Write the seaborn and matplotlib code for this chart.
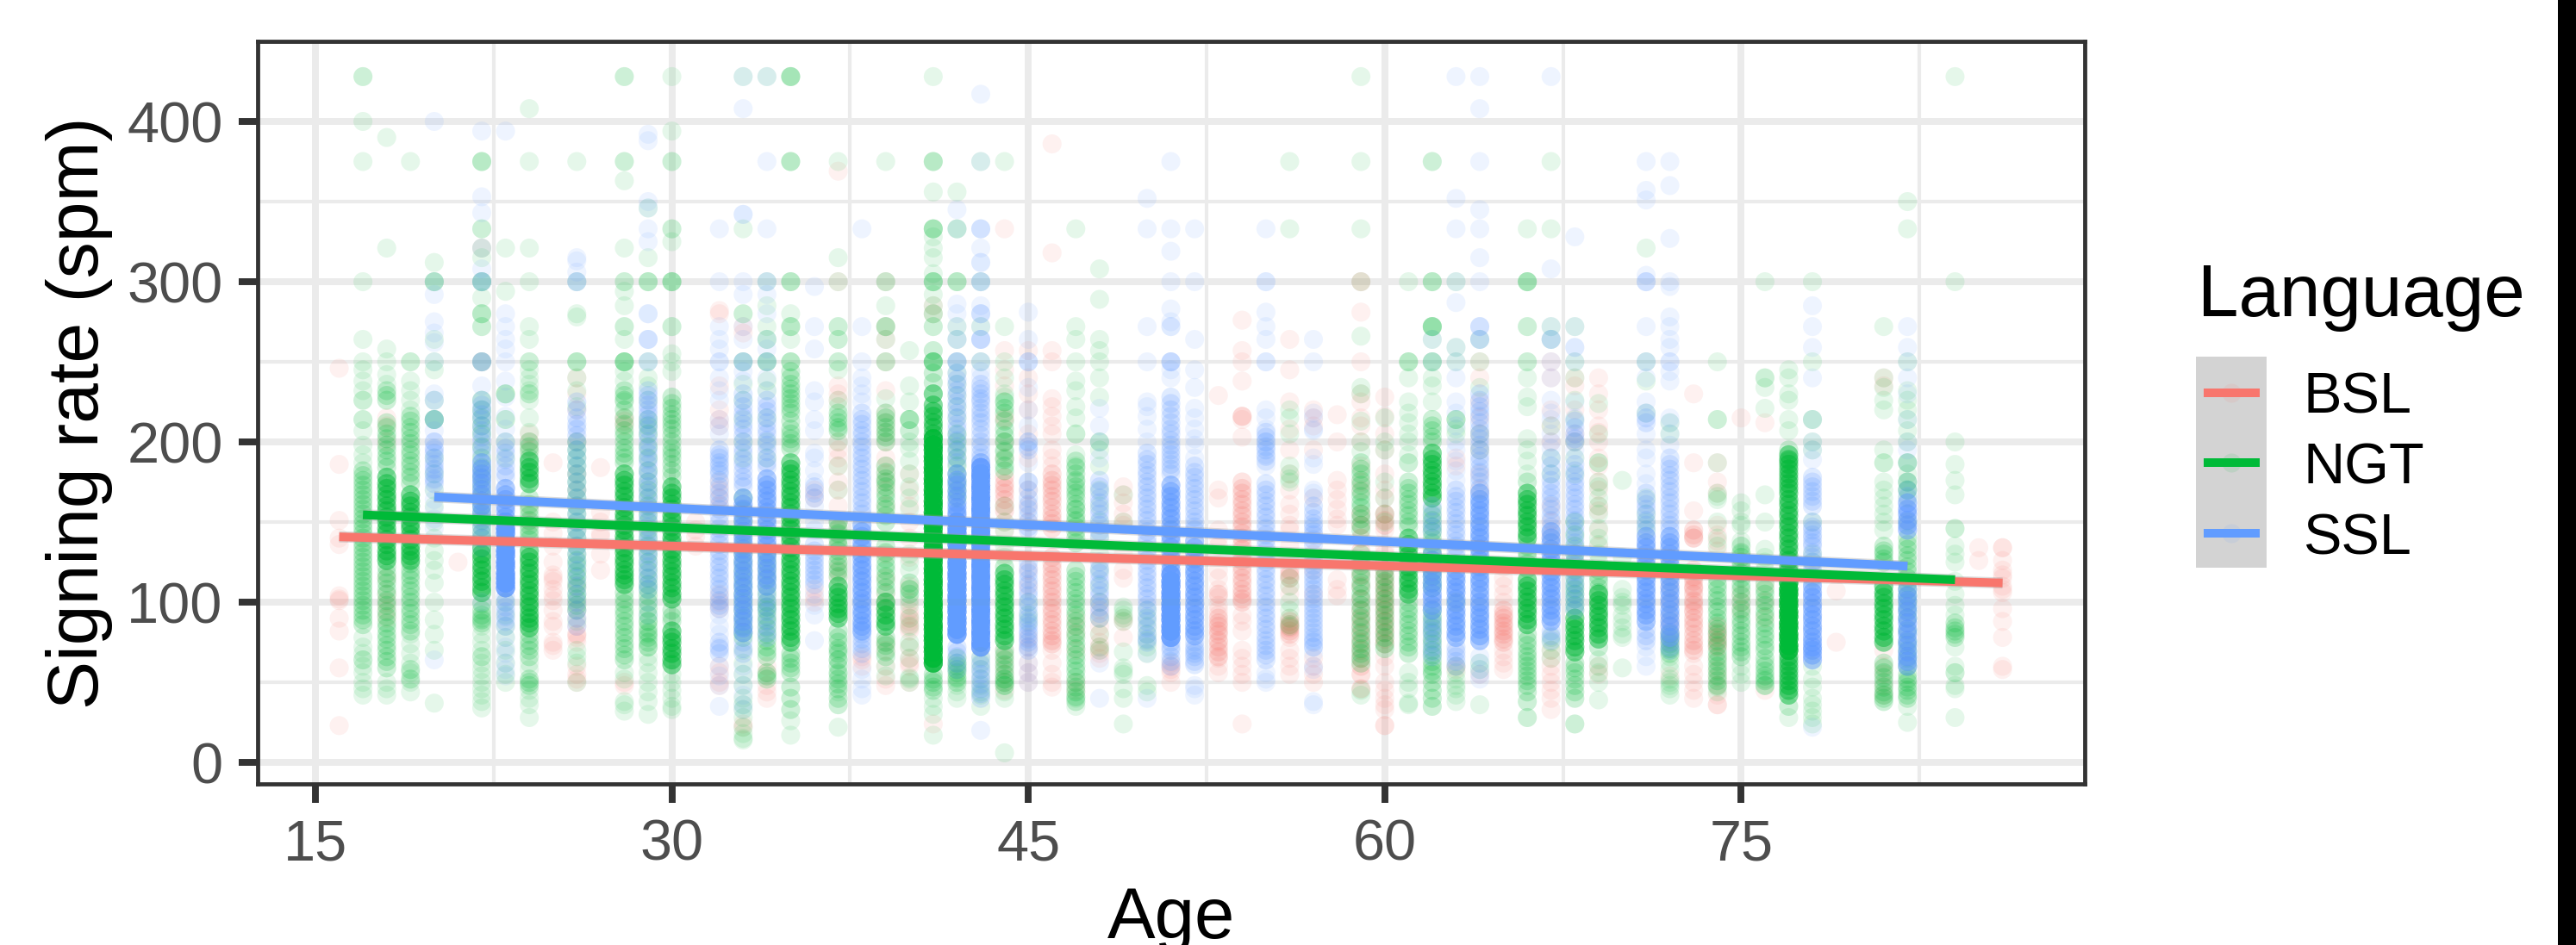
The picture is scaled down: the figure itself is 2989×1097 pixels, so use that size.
import pandas as pd
import matplotlib
matplotlib.use('Agg')
import matplotlib.pyplot as plt
import seaborn as sns

# Valores: {edad: [signos por minuto]}
# once = un punto, mid / heavy / solid = zonas donde los puntos se apilan
bsl_once = {
    16: [246, 186, 151, 140, 136, 104, 102, 101, 90, 82, 59, 23],
    18: [215, 210, 200, 115, 105, 100, 95, 90],
    21: [125],
    22: [321, 250],
    24: [205, 200, 195, 160, 150],
    25: [187, 150, 143, 135, 125, 117, 115, 113, 108, 104, 101, 95, 88, 85, 75, 73, 70],
    26: [240, 230, 220, 200, 180, 170, 110, 100, 95, 90, 85, 80, 80, 78, 75, 60, 55, 52, 50],
    27: [184, 156, 150, 143, 141, 130, 120],
    28: [215, 213, 210, 50, 48],
    31: [150, 145, 141, 135],
    32: [282, 280, 235, 220, 214, 210, 175, 170, 165, 160, 105, 100, 96, 60, 56, 50, 48],
    33: [272, 268, 24, 22],
    34: [60, 56, 48, 44, 40],
    36: [170, 165, 108, 103, 100],
    37: [369, 300, 235, 230, 226, 200, 195, 190, 185, 175, 170, 160, 150, 145, 135, 125, 120, 115],
    38: [66, 64, 60],
    39: [300, 272, 264, 250, 232, 218, 212, 206, 200, 190, 185, 180, 175, 170, 160, 130, 115, 105, 100, 95, 75, 70, 60, 52, 48],
    40: [180, 170, 160, 150, 140, 128, 110, 100, 95, 92, 90, 88, 86, 84, 82, 72, 65, 62, 60, 50],
    41: [285, 280, 24],
    44: [333, 257, 245, 235, 215, 214, 200, 190, 150, 144, 130, 70, 65, 60, 55, 50, 45],
    45: [257, 240, 230, 220, 205, 190, 170, 160, 150, 120, 110, 78, 72, 62, 56, 50],
    46: [386, 318, 257, 250, 227, 222, 216, 210, 205, 195, 190, 185, 70, 62, 55, 50, 47],
    47: [90, 85, 80, 70, 50, 45],
    48: [100, 95, 90, 85, 80, 75, 72, 70, 68, 65],
    49: [172, 167, 162, 155, 150, 148, 130, 120, 115, 90, 88, 78],
    51: [62, 60, 58, 56, 50],
    53: [229, 170, 165, 145, 140, 135, 120, 115, 108, 103, 98, 95, 92, 75, 65, 60, 56],
    54: [276, 257, 250, 238, 216, 214, 203, 92, 88, 82, 70, 65, 60, 55, 50, 24],
    56: [264, 245, 225, 208, 195, 180, 170, 161, 155, 148, 145, 135, 128, 110, 105, 90, 85, 78, 70, 65, 60, 55],
    57: [220, 215, 210, 195, 165, 130, 120, 105, 65, 60, 55, 50],
    58: [217, 200, 176, 170, 164, 158, 152, 148, 114, 108, 104],
    59: [300, 300, 281, 250, 230, 225, 215, 210, 200, 185, 175, 170],
    60: [228, 216, 205, 195, 180, 170, 165, 155, 145, 133, 130, 66, 60, 50, 45, 40, 36, 33, 23, 23],
    63: [190, 185, 60, 58],
    64: [250, 240, 225, 215, 205, 195, 180, 170, 55],
    65: [122, 115, 110, 105, 100, 70, 66, 62, 58],
    67: [250, 240, 220, 210, 200, 160, 150, 142, 70, 65, 60, 55, 50, 45, 40, 33],
    68: [240, 235, 220, 205, 200],
    69: [240, 230, 220, 210, 206, 200, 190, 185, 175, 170, 160, 157, 145, 135, 60, 55],
    72: [110, 100, 90, 85, 80, 75, 54],
    73: [230, 187, 157, 140, 115, 110, 108, 100, 95, 68, 60, 55, 50, 45, 40],
    74: [187, 175, 168, 148, 142, 138, 132, 65, 58, 53, 48, 42, 36, 36],
    75: [215, 105, 100, 95],
    76: [212, 110, 100, 90, 45],
    79: [107, 75],
    81: [240, 235, 70, 60, 55, 48, 42],
    85: [134, 126],
    86: [134, 134, 126, 120, 117, 115, 110, 108, 106, 96, 88, 78, 60, 58],
}
bsl_mid = {
    44: [178, 174, 171, 168, 164, 160, 157],
    46: [180, 176, 173, 170, 166, 163, 159, 155, 152, 149, 146, 128, 124, 121, 117, 114, 110, 107, 103, 100, 96, 93, 89, 86, 82, 79, 76, 74],
    53: [105, 90, 87, 85, 82, 80, 76, 72, 69, 66],
    54: [216, 175, 171, 168, 164, 161, 157, 154, 150, 147, 143, 140, 136, 133, 129, 126, 122, 119, 115, 112, 108, 105, 102, 100],
    56: [120, 117, 115, 88, 86, 84, 82, 80],
    59: [155, 148, 140, 132, 125, 117, 110, 102, 95, 90, 85, 80, 75, 70, 65, 60, 55, 46],
    60: [155, 151, 148, 125, 120, 116, 112, 109, 105, 102, 98, 95, 91, 88, 84, 81, 77, 74],
    65: [95, 92, 90, 87, 85, 82, 80, 77, 75],
    73: [145, 142, 140, 120, 116, 113, 109, 105, 101, 98, 94, 90, 87, 84, 80, 76, 73, 70],
    74: [85, 81, 78, 75, 72],
}
ngt_once = {
    17: [428, 428, 400, 375, 300, 264, 250, 245, 238, 232, 226, 226, 214, 214, 207, 198, 192, 187, 78, 72, 68, 60, 56, 50, 46, 42],
    18: [390, 321, 258, 250, 242, 236, 50, 46, 42],
    19: [375, 250, 250, 238, 232, 226, 220, 80, 74, 68, 62, 56, 50, 44],
    20: [312, 300, 300, 300, 264, 250, 245, 226, 214, 214, 214, 214, 190, 180, 170, 160, 150, 140, 132, 126, 120, 112, 100, 89, 80, 70, 37],
    22: [375, 375, 375, 333, 333, 321, 315, 300, 300, 300, 290, 280, 280, 280, 272, 272, 250, 250, 90, 85, 80, 75, 70, 62, 58, 54, 50, 46, 42, 38, 34],
    23: [321, 294, 230, 230, 230, 214, 214, 200, 190, 100, 92, 85, 78, 70, 62, 55, 50],
    24: [408, 375, 321, 300, 272, 264, 250, 250, 245, 240, 236, 232, 226, 215, 206, 62, 58, 45, 40, 36, 28],
    26: [375, 300, 280, 278, 250, 250, 250, 240, 232, 222, 88, 70, 66, 62, 50],
    28: [428, 428, 375, 375, 363, 321, 300, 300, 294, 285, 272, 272, 264, 250, 250, 250, 250, 250, 244, 238, 225, 56, 52, 38, 36, 32],
    29: [346, 315, 300, 300, 300, 250, 240, 235, 226, 88, 80, 72, 66, 62, 56, 50, 44, 38, 30],
    30: [428, 394, 375, 375, 333, 333, 325, 300, 300, 300, 300, 272, 272, 255, 250, 244, 55, 50, 45, 40, 35, 33],
    33: [428, 333, 280, 280, 250, 250, 236, 226, 214, 200, 190, 70, 62, 55, 48, 40, 36, 33, 28, 22, 18, 15, 14],
    34: [428, 300, 285, 272, 264, 264, 250, 250, 250, 238, 232, 215, 200, 190],
    35: [428, 428, 428, 428, 375, 375, 375, 300, 300, 300, 280, 272, 272, 272, 264, 250, 250, 250, 26, 17],
    37: [375, 315, 300, 272, 272, 264, 264, 250, 250, 245, 226, 222, 200, 185, 170, 150, 142, 135, 70, 64, 55, 44, 22],
    39: [375, 300, 300, 285, 272, 272, 272, 264, 250, 250, 227, 60, 54],
    40: [257, 235, 225, 214, 214, 207, 207, 200, 196, 188, 180, 172, 165, 158, 130, 125, 120, 108, 102, 98, 90, 85, 75, 72, 65, 53, 52, 50],
    41: [428, 375, 375, 375, 356, 328, 321, 315, 305, 292, 285, 40, 35, 30, 17],
    42: [356, 333, 333, 300, 300, 300, 272, 264, 250, 243, 236, 229, 222, 215, 52, 48, 44, 40],
    43: [375, 300, 272, 250, 66, 62, 58, 52, 48, 44, 42, 35],
    44: [375, 272, 250, 240, 230, 228, 225, 200, 195, 190, 160, 150, 145, 135, 128, 52, 48, 44, 40, 6],
    45: [100, 92, 88],
    47: [333, 272, 264, 250, 238, 232, 222, 215, 205, 205, 192, 185, 175, 170, 158, 150, 40, 35],
    48: [308, 289, 264, 257, 250, 240, 228, 200, 200, 195, 185, 170, 160, 150, 140, 130, 120, 110, 100, 90, 80, 72, 70],
    49: [167, 150, 97, 95, 92, 90, 88, 69, 59, 57, 55, 46, 40, 24],
    50: [95, 90, 85, 80, 76, 72, 68, 48, 44],
    56: [375, 333, 220, 215, 205, 185, 180, 177, 175, 115, 110, 100, 95, 90, 86, 85],
    59: [428, 375, 333, 300, 266, 234, 230, 213, 200, 194, 45, 42],
    60: [215, 200, 195, 175, 165, 155, 150],
    61: [300, 250, 250, 250, 240, 225, 218, 212, 205, 200, 192, 56, 50, 46, 37, 36],
    62: [375, 375, 300, 300, 300, 272, 272, 272, 272, 272, 264, 250, 250, 250, 240, 235, 225],
    63: [300, 259, 250, 214, 214, 214, 208, 205, 100, 60, 56, 52, 48, 46, 42, 38],
    64: [264, 250, 234, 205, 195, 62, 58, 36],
    66: [333, 300, 300, 300, 300, 272, 272, 250, 250, 240, 228, 222, 202, 195, 188, 180],
    67: [375, 333, 272, 264, 210, 190, 180, 78, 75, 70, 65],
    68: [272, 250, 240, 226, 214, 200, 190, 180],
    69: [224, 205, 187, 187, 175, 172, 165, 160, 155, 146, 140, 136, 130, 125, 64, 60, 56, 50, 39],
    70: [176, 128, 108, 103, 100, 98, 92, 88, 84, 80, 78, 59],
    71: [321, 250, 238, 218, 165, 155, 150, 145],
    72: [212, 205, 70, 66, 62, 58, 52, 50, 48, 46, 42],
    74: [250, 214, 214, 187, 168, 166, 164, 150, 140, 135, 47, 44],
    75: [162, 157, 150, 148, 138, 130, 120, 60, 55, 50],
    76: [300, 240, 240, 234, 221, 167, 150, 133, 128, 125, 120, 62, 52, 48],
    77: [245, 240, 230, 226, 214, 207, 28],
    78: [300, 250, 214, 214, 200, 195, 150, 130, 125, 115, 60, 52, 47, 40, 36, 32, 28, 24],
    81: [272, 240, 234, 226, 220, 195, 187, 187, 175, 170, 165, 160, 155, 150, 145],
    82: [350, 333, 250, 232, 226, 220, 214, 207, 200, 187, 180, 175, 170, 165, 150, 35, 25],
    84: [428, 300, 200, 186, 176, 167, 146, 146, 135, 130, 125, 113, 105, 98, 92, 72, 60, 56, 56, 48, 46, 28],
}
ngt_mid = {
    17: [182, 179, 176, 173, 170, 167, 164, 161, 158, 155, 152, 149, 146, 143, 140, 137, 134, 131, 128, 125, 122, 119, 116, 113, 110, 107, 104, 101, 98, 95, 92, 89, 86, 64],
    18: [232, 229, 226, 212, 209, 205, 202, 198, 195, 191, 188, 184, 122, 118, 115, 112, 108, 105, 101, 98, 94, 91, 87, 84, 80, 77, 73, 70, 66, 63, 59],
    19: [216, 213, 209, 206, 202, 199, 195, 192, 188, 185, 181, 178, 174, 124, 120, 117, 114, 110, 107, 103, 100, 96, 93, 89, 86, 82, 58, 52],
    22: [226, 220, 215, 210, 205, 197, 190, 184, 178, 172, 166, 160, 155, 151, 147, 143, 140, 99, 95, 92, 89, 87, 66],
    24: [230, 200, 197, 194, 190, 165, 161, 158, 154, 151, 148, 145, 142, 139, 80, 76, 73, 70, 66, 52, 50, 48],
    26: [200, 195, 190, 185, 180, 175, 170, 165, 160, 155, 150, 145, 140, 135, 130, 126, 123, 119, 116, 112, 109, 105, 102, 98, 95],
    28: [232, 229, 226, 220, 215, 211, 207, 204, 200, 196, 193, 190, 187, 106, 102, 99, 95, 92, 88, 85, 81, 78, 74, 71, 67, 64],
    29: [214, 210, 205, 197, 190, 182, 175, 170, 165, 160, 155, 150, 145, 140, 135, 130, 125, 120, 115, 111, 108, 104, 100, 96, 92, 88, 84, 81, 78, 75, 72],
    30: [228, 224, 221, 217, 214, 211, 208, 204, 200, 196, 193, 190, 186, 182, 178, 95, 91, 88],
    33: [165, 157, 150, 142, 135, 130, 125, 120, 115, 110, 105, 100, 95, 90, 85, 81, 78],
    34: [130, 125, 120, 115, 110, 105, 100, 97, 95, 91, 88, 84, 80, 76, 72, 69, 66, 56, 54, 52],
    35: [244, 240, 236, 233, 230, 227, 224, 221, 218, 213, 208, 205, 202, 199, 196, 68, 65, 62, 59, 56, 47, 40, 33],
    37: [218, 215, 212, 209, 207, 150, 146, 143, 139, 136, 132, 129, 125, 122, 119, 116, 82, 78, 75, 71, 68, 64, 60, 56, 52, 49, 46, 40, 36],
    39: [218, 215, 212, 209, 206, 203, 200, 185, 181, 177, 175, 172, 168, 165, 161, 158, 154, 150, 135, 131, 127, 123, 120, 116, 113, 109, 106, 78, 75, 73, 69, 66],
    40: [214, 112, 108, 105],
    41: [333, 333, 300, 300, 280, 272, 257, 243, 237, 55, 52, 50, 47, 45],
    42: [205, 200, 195, 190, 185, 180, 175, 170, 165, 65, 62, 60, 58, 56, 53, 50],
    44: [225, 221, 218, 213, 208, 204, 200, 194, 189, 185, 182, 122, 70, 67, 64, 61, 58, 55, 52, 50, 48],
    47: [188, 184, 180, 176, 172, 168, 165, 161, 158, 154, 151, 147, 144, 140, 137, 120, 116, 113, 109, 106, 102, 99, 95, 92, 88, 85, 81, 78, 74, 71, 67, 64, 60, 57, 53, 50, 47, 44, 41, 38],
    59: [187, 183, 180, 176, 173, 169, 166, 162, 159, 155, 152, 148, 145, 130, 126, 123, 119, 116, 112, 109, 105, 102, 98, 95, 91, 88, 84, 81, 77, 74, 71, 68, 65, 62],
    60: [120, 116, 113, 109, 106, 102, 99, 95, 92, 88, 85, 81, 78, 74, 71],
    61: [187, 175, 171, 168, 164, 161, 157, 154, 150, 147, 100, 96, 93, 89, 86, 82, 79, 75, 72, 68],
    62: [214, 210, 207, 203, 200, 158, 154, 151, 147, 144, 140, 137, 133, 130, 126, 123, 119, 116, 112, 109, 95, 91, 88, 84, 81, 77, 74, 70, 67, 63, 60, 57, 55, 50, 45, 40, 35],
    66: [175, 135, 131, 128, 124, 121, 80, 76, 73, 69, 66, 63, 60, 57, 54, 51, 48, 44, 38, 28],
    68: [150, 142, 135, 130, 125, 120, 115, 111, 108, 105, 102, 98, 95, 62, 59, 56, 52, 48, 44, 40, 24],
    69: [120, 116, 113, 109, 106, 72],
    72: [80, 77, 74, 71, 68],
    74: [115, 111, 108, 104, 101, 97, 94, 90, 87, 83, 80, 76, 73, 69, 66, 63, 60, 57, 54, 51, 48],
    75: [135, 131, 128, 125, 122, 118, 115, 111, 108, 104, 100, 96, 93, 89, 86, 82, 79, 75, 72, 69, 66],
    76: [112, 108, 105, 101, 98, 94, 91, 87, 84, 80, 77, 73, 70, 65, 60, 57, 54, 51, 48],
    77: [195, 188, 35],
    81: [135, 132, 130, 127, 125, 62, 59, 56, 53, 50, 47, 44, 42, 40, 38],
    82: [187, 175, 170, 140, 136, 133, 129, 126, 122, 119, 115, 112, 108, 104, 100, 95, 90, 82, 75, 70, 65, 60, 55, 52, 50, 47, 45, 42, 40],
    84: [87, 84, 82, 80, 78],
}
ngt_heavy = {
    18: [178, 174, 171, 167, 164, 160, 157, 153, 150, 146, 143, 139, 136, 132, 129, 126],
    19: [167, 163, 160, 156, 153, 149, 146, 142, 139, 135, 132, 129, 126],
    22: [134, 130, 127, 123, 120, 116, 113, 109, 106],
    24: [188, 184, 181, 177, 174, 132, 128, 125, 121, 118, 114, 111, 107, 104, 100, 97, 93, 90, 87, 84],
    28: [180, 176, 173, 169, 166, 162, 159, 155, 152, 148, 145, 141, 138, 134, 131, 127, 124, 120, 117, 114, 111],
    30: [172, 168, 165, 161, 158, 154, 151, 147, 144, 140, 137, 133, 130, 126, 123, 119, 116, 112, 109, 105, 102, 82, 78, 75, 71, 68, 64, 61],
    35: [187, 183, 180, 176, 173, 169, 166, 162, 159, 155, 152, 148, 145, 141, 138, 134, 131, 127, 124, 120, 117, 113, 110, 106, 103, 99, 96, 92, 89, 85, 82, 78, 75],
    37: [110, 106, 103, 99, 96, 93, 90],
    39: [100, 96, 92, 88, 85],
    41: [250, 230, 223, 219, 216, 212, 209, 205],
    44: [118, 114, 111, 107, 104, 100, 97, 93, 90, 86, 83, 79, 76],
    61: [140, 136, 133, 129, 126, 122, 119, 115, 112, 108, 105],
    62: [193, 189, 186, 182, 179, 175, 172, 168, 165],
    66: [168, 164, 161, 157, 154, 150, 147, 143, 140, 114, 110, 107, 103, 100, 96, 93, 89, 86],
    68: [90, 86, 83, 79, 76, 72, 69],
    69: [105, 101, 98, 94, 91, 87, 84, 80, 77],
    77: [192, 189, 186, 183, 180, 177, 174, 171, 168, 164, 161, 157, 154, 150, 147, 143, 140, 136, 133, 129, 126, 122, 119, 116, 66, 63, 60, 57, 54, 51, 48, 45, 42],
    81: [110, 106, 103, 99, 96, 92, 89, 85, 82, 78, 75],
}
ngt_solid = {
    41: [202, 198, 195, 191, 188, 184, 181, 177, 174, 170, 167, 163, 160, 156, 153, 149, 146, 142, 139, 135, 132, 128, 125, 121, 118, 114, 111, 107, 104, 100, 97, 93, 90, 86, 83, 79, 76, 72, 69, 65, 62],
    77: [112, 108, 105, 101, 98, 94, 91, 87, 84, 80, 77, 73, 70],
}
ssl_once = {
    20: [400, 300, 292, 275, 268, 262, 250, 230, 214, 214, 214, 207, 200, 195, 188, 182, 176, 170, 164, 158, 152, 146, 64],
    22: [394, 353, 343, 321, 308, 300, 300, 300, 250, 250, 250, 250, 235, 134, 100],
    23: [394, 280, 272, 264, 258, 250, 238, 228, 216, 208, 78, 72, 68, 62, 58, 54],
    26: [315, 313, 306, 300, 300, 300],
    29: [392, 388, 350, 346, 333, 325, 280, 280, 264, 264, 264, 250, 250, 100, 92],
    32: [333, 300, 272, 264, 258, 250, 250, 240, 232, 226, 214, 210, 205, 92, 85, 80, 72, 60, 54, 48, 35],
    33: [428, 408, 342, 342, 300, 292, 272, 264, 250, 250, 250, 244, 238, 60, 55, 48, 42, 36, 33],
    34: [428, 375, 333, 300, 300, 292, 280, 264, 258, 250, 250, 240, 232],
    36: [297, 272, 258, 232, 225, 214, 207, 193, 190, 182, 175, 160, 150, 145, 105, 98, 92, 76],
    38: [333, 272, 250, 240, 235, 230, 225, 58, 52, 46, 42],
    42: [345, 333, 286, 280, 272, 264, 264, 250, 250, 250, 250],
    43: [417, 375, 333, 333, 333, 321, 312, 312, 300, 300, 300, 285, 280, 280, 280, 272, 264, 264, 264, 264, 244, 240, 20],
    45: [281, 264, 250, 250, 250, 234, 220, 210, 200, 187, 175, 62, 56, 50],
    48: [221, 210, 200, 190, 62, 40],
    50: [352, 333, 272, 250, 225, 222, 216, 208, 200, 68, 40],
    51: [375, 333, 319, 300, 283, 275, 272, 272, 250, 250, 250, 250, 245, 240],
    52: [333, 300, 264, 245, 234, 221, 215, 208, 202, 198, 190, 48, 46, 42],
    55: [333, 300, 300, 281, 272, 264, 250, 250, 220, 215, 208, 200, 192, 185, 56, 52, 50],
    57: [264, 250, 218, 215, 208, 207, 190, 186, 170, 168, 165, 76, 72, 68, 60, 58, 38, 36],
    62: [264, 250],
    63: [428, 352, 333, 300, 287, 259, 250, 240, 225, 218, 210, 200, 195, 188, 182, 176],
    64: [428, 408, 375, 345, 333, 315, 300, 272, 272, 272, 264, 264, 264, 66, 62, 58, 55, 52],
    67: [428, 308, 272, 264, 264, 264, 250, 240, 226, 218, 214, 205, 200, 196],
    68: [328, 272, 259, 259, 250, 225, 215, 195, 190],
    71: [375, 357, 351, 304, 300, 300, 300, 272, 250, 250, 240, 225, 205, 195, 190, 180, 174, 72, 66, 60],
    72: [375, 360, 327, 300, 297, 278, 272, 264, 259, 250, 250, 244, 238, 215, 212, 205, 198],
    78: [285, 272, 259, 240, 214, 200, 195, 189, 22],
    82: [272, 259, 250, 240, 230, 214, 200, 195, 187, 175],
}
ssl_mid = {
    20: [226, 200, 196, 193, 190, 186, 183, 180, 177, 174],
    22: [226, 223, 220, 217, 214, 210, 207, 203, 200, 196, 193, 153, 150, 147, 143, 140],
    23: [200, 196, 193, 189, 185, 181, 178, 103, 100, 97, 94, 91, 88, 85],
    26: [225, 220, 215, 211, 208, 204, 200, 195, 190, 185, 180, 175, 170, 165, 160, 155, 150, 145, 140, 135, 130, 125, 120, 115, 110, 105, 100, 95, 90, 85],
    29: [232, 229, 226, 223, 220, 217, 214, 211, 208, 204, 200, 196, 193, 189, 186, 182, 179, 175, 172, 168, 165, 161, 158, 154, 151, 147, 143, 139, 136, 132, 129, 125, 122, 118, 115, 111, 108],
    32: [195, 192, 190, 187, 185, 182, 180, 176, 172, 168, 165, 161, 158, 154, 150, 146, 143, 139, 136, 132, 129, 125, 122, 118, 115, 111, 108, 104, 101, 98, 96, 75, 71, 68],
    33: [230, 226, 222, 218, 215, 211, 208, 204, 200, 196, 193, 189, 186, 182, 178, 175, 172, 75, 71, 68],
    34: [226, 222, 219, 215, 212, 208, 205, 201, 198, 194, 190, 187, 184, 107, 103, 100, 97, 94, 89, 85, 81, 78],
    36: [172, 168, 165, 136, 132, 129, 126, 123, 120, 117, 114, 111],
    38: [218, 214, 211, 207, 204, 200, 197, 193, 190, 186, 183, 179, 176, 172, 169, 165, 162, 158, 155, 80, 77, 74, 71, 68],
    42: [243, 239, 236, 232, 229, 225, 222, 218, 215, 211, 208, 204, 201, 197, 194, 190, 187, 72, 69, 66, 62, 58],
    43: [250, 236, 233, 230, 227, 225, 221, 218, 215, 212, 208, 204, 200, 197, 193, 190, 65, 61, 58, 55, 52, 49, 46, 43, 40],
    45: [200, 197, 195, 175, 170, 165, 161, 158, 154, 150, 147, 145, 125, 121, 118, 114, 111, 107, 104, 100, 97, 93, 90, 87, 85, 82, 80, 77, 75, 72, 70],
    48: [176, 172, 169, 165, 162, 158, 155, 151, 148, 144, 141, 125, 121, 118, 114, 111, 107, 104, 100, 97, 93, 90],
    50: [193, 189, 186, 182, 179, 175, 172, 168, 165, 161, 158, 154, 151, 147, 144, 140, 137, 133, 130, 126, 123, 119, 116, 112, 109, 105, 102, 98, 95, 91, 88, 84, 80, 77, 75],
    51: [228, 224, 220, 216, 212, 208, 205, 201, 198, 195, 192, 189, 186, 183, 180, 75, 72, 70, 66, 63, 60],
    52: [185, 181, 178, 174, 171, 167, 164, 160, 157, 153, 150, 147, 145, 75, 72, 70, 68, 66, 63, 61],
    55: [206, 203, 200, 197, 195, 191, 188, 174, 170, 167, 163, 160, 156, 153, 149, 146, 142, 139, 135, 132, 128, 125, 121, 118, 114, 111, 107, 104, 100, 97, 93, 90, 86, 83, 79, 76, 73, 70, 67, 64],
    57: [160, 156, 152, 149, 147, 144, 142, 139, 136, 126, 123, 120, 117, 114, 111, 108, 105, 102, 99, 96, 93, 90, 87, 84, 81, 78, 75, 72],
    62: [160, 155, 150, 147, 144, 90, 87, 85, 82, 80, 76, 72, 69, 66],
    63: [170, 166, 163, 159, 156, 152, 149, 145, 142, 138, 135, 131, 128, 124, 72, 69, 66, 63, 60],
    64: [230, 226, 222, 219, 216, 212, 208, 205, 202, 198, 195, 191, 188, 184, 181, 178, 175, 171],
    67: [190, 185, 180, 176, 172, 168, 165, 161, 158, 154, 151, 147, 82, 79, 76],
    68: [213, 209, 205, 202, 200, 186, 182, 179, 175, 172, 168, 165, 161, 158, 154, 151, 147, 144, 140, 137, 133, 130, 126, 123, 119, 116, 112, 109, 105, 102, 98, 95],
    71: [218, 215, 212, 168, 164, 161, 158, 155, 151, 148, 145, 83, 79, 76],
    72: [190, 186, 183, 179, 176, 172, 169, 165, 162, 158, 155, 151, 148, 145, 75, 72, 70],
    78: [178, 175, 172, 169, 166, 163, 160, 150, 147, 145, 142, 140, 137, 135, 131, 128, 125, 122, 119, 116, 113],
    82: [170, 166],
}
ssl_heavy = {
    22: [187, 183, 180, 177, 174, 170, 167, 163, 160, 156],
    23: [171, 167, 164, 160, 157, 153],
    33: [165, 161, 158, 154, 151, 147, 144, 140, 137, 133, 130, 126, 123, 119, 116, 112, 109, 105, 102, 98, 95, 91, 88, 84, 81],
    34: [177, 173, 170, 166, 163, 159, 156, 152, 149, 145, 142, 138, 135, 131, 128, 124, 121, 117, 114, 110],
    38: [148, 144, 141, 137, 134, 130, 127, 123, 120, 116, 113, 109, 106, 102, 99, 95, 92, 88, 85, 82],
    42: [180, 176, 173, 169, 166, 162, 159, 156, 154],
    43: [187],
    51: [173, 169, 166, 162, 159, 155, 152, 148, 145, 141, 138, 134, 131, 127, 124, 120],
    52: [138, 134, 131, 127, 124, 120, 117, 113, 110, 106, 103, 99, 96, 92, 89, 85, 82, 79],
    62: [130, 126, 123, 119, 116, 112, 109, 105, 102, 98, 95],
    63: [120, 116, 113, 109, 106, 102, 99, 95, 92, 88, 85, 81, 78],
    64: [168, 164, 161, 157, 154, 150, 147, 143, 140, 136, 133, 129, 126, 122, 119, 115, 112, 108, 104, 100, 97, 93, 90, 86, 83, 79, 76],
    67: [144, 140, 137, 133, 130, 126, 123, 119, 116, 112, 109, 105, 102, 98, 95, 91, 88],
    71: [141, 137, 134, 130, 127, 123, 120, 116, 113, 109, 106, 102, 99, 95, 92, 88],
    72: [141, 137, 134, 130, 127, 123, 120, 116, 113, 109, 106, 102, 99, 95, 92, 88, 85, 81, 78],
    78: [110, 106, 103, 99, 96, 92, 89, 85, 82, 78, 75, 72, 70, 67, 64],
    82: [162, 158, 155, 151, 148, 145, 108, 104, 101, 97, 94, 90, 87, 83, 80, 76, 73, 69, 66, 63, 60],
}
ssl_solid = {
    23: [150, 146, 143, 139, 136, 132, 129, 125, 122, 118, 115, 112, 109],
    42: [150, 146, 143, 139, 136, 132, 129, 125, 122, 118, 115, 111, 108, 104, 101, 97, 94, 90, 87, 83, 80],
    43: [184, 180, 177, 173, 170, 166, 163, 159, 156, 152, 149, 145, 142, 138, 135, 131, 128, 124, 121, 117, 114, 110, 107, 103, 100, 96, 93, 89, 86, 82, 79, 75, 72],
    51: [117, 113, 110, 106, 103, 99, 96, 92, 89, 85, 82, 78],
}

languages = ['BSL', 'NGT', 'SSL']
colors = ['#F8766D', '#00BA38', '#619CFF']
palette = dict(zip(languages, colors))

# Rectas de ajuste: extremos
line_language = ['BSL', 'BSL', 'NGT', 'NGT', 'SSL', 'SSL']
line_age = [16, 86, 17, 84, 20, 82]
line_rate = [140.8, 112, 154.5, 114, 165.7, 122.5]

x_ticks = [15, 30, 45, 60, 75]
y_ticks = [0, 100, 200, 300, 400]
x_minor = [22.5, 37.5, 52.5, 67.5, 82.5]
y_minor = [50, 150, 250, 350]

tiers = [
    ('BSL', bsl_once, 1), ('BSL', bsl_mid, 2),
    ('NGT', ngt_once, 1), ('NGT', ngt_mid, 2), ('NGT', ngt_heavy, 6), ('NGT', ngt_solid, 16),
    ('SSL', ssl_once, 1), ('SSL', ssl_mid, 2), ('SSL', ssl_heavy, 6), ('SSL', ssl_solid, 16),
]
rows = []
for language, table, reps in tiers:
    for age, rates in table.items():
        for rate in rates:
            rows.extend([(language, age, rate)] * reps)
df = pd.DataFrame(rows, columns=['Language', 'Age', 'Rate'])
lines = pd.DataFrame({'Language': line_language, 'Age': line_age, 'Rate': line_rate})

W, H = 2989, 1097
sns.set_theme(style='white')
plt.rcParams['font.family'] = ['Liberation Sans', 'DejaVu Sans']

fig = plt.figure(figsize=(W / 300, H / 300), dpi=300)
ax = fig.add_axes([299 / W, 1 - 910 / H, (2419 - 299) / W, (910 - 48) / H])

sns.scatterplot(data=df, x='Age', y='Rate', hue='Language', palette=palette, s=28, alpha=0.1,
                linewidth=0, legend=False, ax=ax, zorder=3)
sns.lineplot(data=lines, x='Age', y='Rate', units='Language', estimator=None, color='#999999',
             linewidth=3.1, alpha=0.35, legend=False, ax=ax, zorder=4, solid_capstyle='butt')
sns.lineplot(data=lines, x='Age', y='Rate', hue='Language', palette=palette, units='Language',
             estimator=None, linewidth=2.4, legend=False, ax=ax, zorder=5, solid_capstyle='butt')

ax.set_xlim(12.57, 89.46)
ax.set_ylim(-13.4, 450)
ax.set_xticks(x_ticks)
ax.set_yticks(y_ticks)
ax.set_xticks(x_minor, minor=True)
ax.set_yticks(y_minor, minor=True)
ax.set_axisbelow(True)
ax.grid(True, which='major', color='#EBEBEB', linewidth=1.9)
ax.grid(True, which='minor', color='#EBEBEB', linewidth=1.0)
ax.tick_params(which='major', length=5.2, width=1.9, color='#333333', labelcolor='#4D4D4D',
               labelsize=16, pad=4.5, left=True, bottom=True)
ax.tick_params(which='minor', length=0)
for spine in ax.spines.values():
    spine.set_visible(True)
    spine.set_color('#333333')
    spine.set_linewidth(1.15)
    spine.set_zorder(6)

ax.set_xlabel('Age', fontsize=20, color='black', va='top')
ax.set_ylabel('Signing rate (spm)', fontsize=20.2, color='black', va='bottom')
ax.xaxis.set_label_coords(0.5, (910 - 1028) / (910 - 48))
ax.yaxis.set_label_coords((131 - 299) / (2419 - 299), 0.5)

# Leyenda a mano: la clave gris no cubre las etiquetas
key = fig.add_axes([2548 / W, 1 - 659 / H, 82 / W, 245 / H], facecolor='#D3D3D3')
key.set_xlim(2548, 2630)
key.set_ylim(659, 414)
key.set_xticks([])
key.set_yticks([])
for spine in key.spines.values():
    spine.set_visible(False)
for language, y in zip(languages, [456, 537, 619]):
    key.plot([2557, 2622], [y, y], color=palette[language], linewidth=2.4, solid_capstyle='butt')
    key.plot([2589], [y], 'o', color=palette[language], alpha=0.1, markersize=5.3, markeredgewidth=0)
    fig.text(2672 / W, 1 - (y + 24) / H, language, fontsize=16, color='black', ha='left', va='baseline')
fig.text(2550 / W, 1 - 367 / H, 'Language', fontsize=20.5, color='black', ha='left', va='baseline')

# Franja negra del borde derecho
fig.add_artist(plt.Rectangle((2968 / W, 0), 21 / W, 1, transform=fig.transFigure,
                             facecolor='black', edgecolor='none'))

fig.savefig('out.png', dpi=300, facecolor='white')
